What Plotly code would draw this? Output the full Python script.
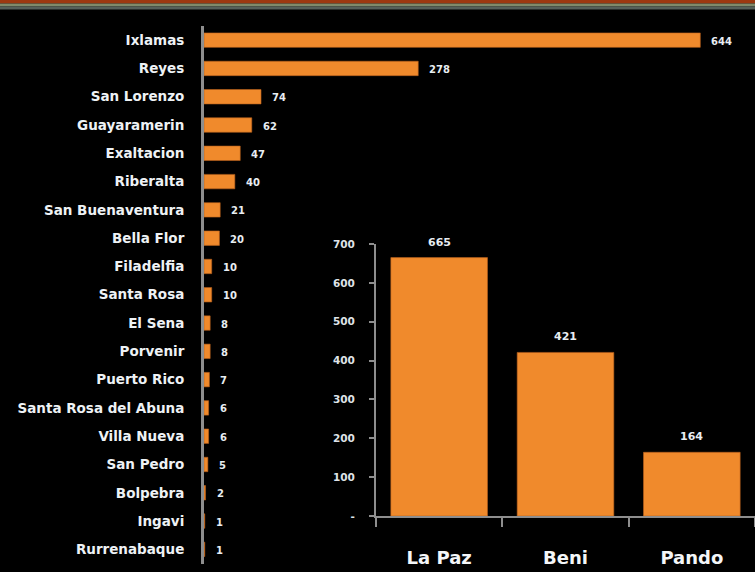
import plotly.graph_objects as go

# ---- data ----
municipios = ["Ixlamas", "Reyes", "San Lorenzo", "Guayaramerin", "Exaltacion", "Riberalta",
              "San Buenaventura", "Bella Flor", "Filadelfia", "Santa Rosa", "El Sena", "Porvenir",
              "Puerto Rico", "Santa Rosa del Abuna", "Villa Nueva", "San Pedro", "Bolpebra",
              "Ingavi", "Rurrenabaque"]
municipio_vals = [644, 278, 74, 62, 47, 40, 21, 20, 10, 10, 8, 8, 7, 6, 6, 5, 2, 1, 1]

departamentos = ["La Paz", "Beni", "Pando"]
departamento_vals = [665, 421, 164]

y2_tickvals = [0, 100, 200, 300, 400, 500, 600, 700]
y2_ticktext = ["-", "100", "200", "300", "400", "500", "600", "700"]

W, H = 755, 572
FONT = "DejaVu Sans"
ORANGE = "#f08a2c"
AXIS = "#8e8e8e"

def px_x(p):
    return p / W

def px_y(p):
    return 1 - p / H

fig = go.Figure()

fig.add_trace(go.Bar(
    x=municipio_vals, y=municipios, orientation="h",
    marker=dict(color=ORANGE, line=dict(color="#b8601c", width=0.6)),
    xaxis="x", yaxis="y", hoverinfo="x+y",
))

fig.add_trace(go.Bar(
    x=departamentos, y=departamento_vals,
    marker=dict(color=ORANGE, line=dict(color="#b8601c", width=0.6)),
    xaxis="x2", yaxis="y2", hoverinfo="x+y",
))

annotations = []
for name, v in zip(municipios, municipio_vals):
    annotations.append(dict(
        x=v, y=name, xref="x", yref="y", text=str(v), showarrow=False,
        xanchor="left", xshift=9, yshift=-1,
        font=dict(family=FONT, size=10, color="#e8edf2", weight="bold"),
    ))
for name, v in zip(departamentos, departamento_vals):
    annotations.append(dict(
        x=name, y=v, xref="x2", yref="y2", text=str(v), showarrow=False,
        yanchor="bottom", yshift=7,
        font=dict(family=FONT, size=11, color="#e8edf2", weight="bold"),
    ))

shapes = [
    dict(type="rect", xref="paper", yref="paper", x0=0, x1=1,
         y0=px_y(3.5), y1=1, fillcolor="#9c3810", line=dict(width=0), layer="above"),
    dict(type="rect", xref="paper", yref="paper", x0=0, x1=1,
         y0=px_y(6.5), y1=px_y(3.5), fillcolor="#7f8a6a", line=dict(width=0), layer="above"),
    dict(type="rect", xref="paper", yref="paper", x0=0, x1=1,
         y0=px_y(9.5), y1=px_y(6.5), fillcolor="#56605a", line=dict(width=0), layer="above"),
]

fig.update_layout(
    width=W, height=H,
    margin=dict(l=0, r=0, t=0, b=0, autoexpand=False),
    paper_bgcolor="black", plot_bgcolor="rgba(0,0,0,0)",
    showlegend=False,
    bargap=0.49,
    annotations=annotations,
    shapes=shapes,
    xaxis=dict(domain=[px_x(204), 1], range=[0, 715], visible=False, fixedrange=True,
               automargin=False),
    yaxis=dict(domain=[px_y(563.5), px_y(26)], range=[18.5, -0.5], type="category",
               automargin=False,
               showline=True, linecolor=AXIS, linewidth=3, showgrid=False, zeroline=False,
               ticks="", ticklabelstandoff=14,
               tickfont=dict(family=FONT, size=13.5, color="#eef2f5", weight="bold")),
    xaxis2=dict(domain=[px_x(376), 1], range=[-0.5, 2.5], anchor="y2", automargin=False,
                showline=True, linecolor=AXIS, linewidth=2, showgrid=False,
                ticks="outside", tickson="boundaries", ticklen=9, tickcolor=AXIS, tickwidth=2,
                ticklabelstandoff=24,
                tickfont=dict(family=FONT, size=18, color="#f4f6f8", weight="bold")),
    yaxis2=dict(domain=[px_y(516), px_y(244)], range=[0, 700], anchor="x2", automargin=False,
                showline=True, linecolor=AXIS, linewidth=2, showgrid=False, zeroline=False,
                tickvals=y2_tickvals, ticktext=y2_ticktext,
                ticks="outside", ticklen=5, tickcolor=AXIS, tickwidth=2,
                ticklabelstandoff=12,
                tickfont=dict(family=FONT, size=10.5, color="#dfe3e8", weight="bold")),
)

# the inset bars are drawn with their own gap
fig.data[1].update(width=0.765)

fig.write_html(
    "out.html",
    config={"displayModeBar": False},
    post_script="document.body.style.margin='0';document.body.style.overflow='hidden';"
                "document.body.style.background='black';",
)
